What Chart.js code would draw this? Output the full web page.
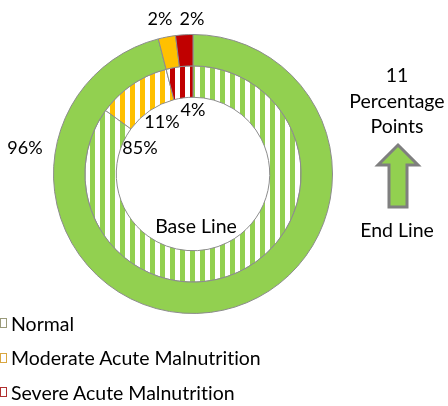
<!DOCTYPE html>
<html>
<head>
<meta charset="utf-8">
<script src="https://cdn.jsdelivr.net/npm/chart.js@4.4.1/dist/chart.umd.min.js"></script>
<style>
  body { margin: 0; background: #fff; font-family: Lato, "Open Sans", sans-serif; color: #000; font-variant-ligatures: none; }
  #page { position: relative; width: 448px; height: 406px; overflow: hidden; }
  #chart { position: absolute; left: 0; top: 0; }
  .note { position: absolute; font-size: 19.5px; text-align: center; line-height: 25.5px; white-space: nowrap; }
  #legend { position: absolute; left: 0; top: 306px; }
  .item { display: flex; align-items: center; height: 34.5px; font-size: 19.5px; white-space: nowrap; }
  .box { width: 5px; height: 8px; border: 1px solid; margin-right: 4px; background: #fff; }
  #arrow { position: absolute; left: 0; top: 0; }
</style>
</head>
<body>
<div id="page">
  <canvas id="chart" width="448" height="406"></canvas>
  <div class="note" style="left:347px;top:62px;width:100px;">11<br>Percentage<br>Points</div>
  <svg id="arrow" width="448" height="406">
    <polygon points="398,145 418,165 407,165 407,207 389,207 389,165 378,165"
             fill="#92D050" stroke="#7f7f7f" stroke-width="3" stroke-linejoin="miter"/>
  </svg>
  <div class="note" style="left:347px;top:217px;width:100px;">End Line</div>
  <div class="note" style="left:146px;top:213px;width:100px;">Base Line</div>
  <div id="legend"></div>
</div>
<script>
const categories = ['Normal', 'Moderate Acute Malnutrition', 'Severe Acute Malnutrition'];
const endLine = [96, 2, 2];
const baseLine = [85, 11, 4];
const colors = ['#92D050', '#FFC000', '#C00000'];
const legendBorders = ['#9a9a7a', '#d9a640', '#b03030'];

// label offsets from the chart centre, per ring and slice
const labelOffsets = [
  [[-168, -26], [-33, -155], [-1, -155]],
  [[-53, -26], [-31, -52], [0, -64]]
];

function stripes(color) {
  const c = document.createElement('canvas');
  c.width = 10; c.height = 10;
  const g = c.getContext('2d');
  g.fillStyle = '#fff';
  g.fillRect(0, 0, 10, 10);
  g.fillStyle = color;
  g.fillRect(0, 0, 5, 10);
  return g.createPattern(c, 'repeat');
}

const labelPlugin = {
  id: 'sliceLabels',
  afterDraw(chart) {
    const ctx = chart.ctx;
    ctx.save();
    ctx.font = '18px Lato, "Open Sans", sans-serif';
    ctx.fillStyle = '#000';
    ctx.textAlign = 'center';
    ctx.textBaseline = 'middle';
    chart.data.datasets.forEach((ds, d) => {
      chart.getDatasetMeta(d).data.forEach((arc, i) => {
        const off = labelOffsets[d][i];
        ctx.fillText(ds.data[i] + '%', arc.x + off[0], arc.y + off[1]);
      });
    });
    ctx.restore();
  }
};

new Chart(document.getElementById('chart'), {
  type: 'doughnut',
  data: {
    labels: categories,
    datasets: [
      { label: 'End Line', data: endLine, backgroundColor: colors, borderColor: '#8c8c8c', borderWidth: 1 },
      { label: 'Base Line', data: baseLine, backgroundColor: colors.map(stripes), borderColor: '#8c8c8c', borderWidth: 1 }
    ]
  },
  options: {
    responsive: false,
    animation: false,
    cutout: '55%',
    layout: { padding: { left: 53, right: 115, top: 34, bottom: 92 } },
    plugins: { legend: { display: false }, tooltip: { enabled: false } }
  },
  plugins: [labelPlugin]
});

// Legend
const legend = document.getElementById('legend');
categories.forEach((name, i) => {
  const row = document.createElement('div');
  row.className = 'item';
  row.innerHTML = `<span class="box" style="border-color:${legendBorders[i]}"></span>${name}`;
  legend.appendChild(row);
});
</script>
</body>
</html>
